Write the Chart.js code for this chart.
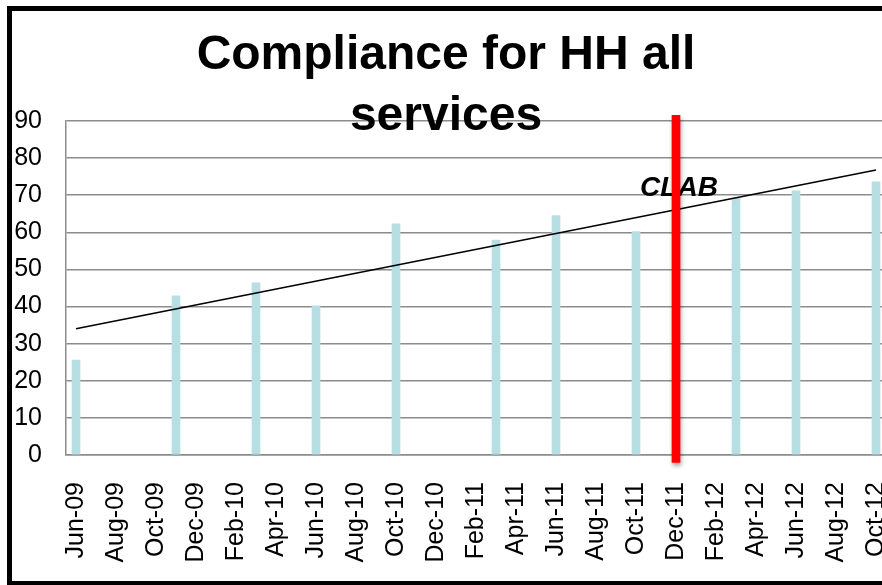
<!DOCTYPE html>
<html>
<head>
<meta charset="utf-8">
<script src="https://cdn.jsdelivr.net/npm/chart.js@4.4.1/dist/chart.umd.min.js"></script>
<style>
  html, body { margin: 0; padding: 0; background: #fff; }
  #clip { position: relative; width: 882px; height: 585px; overflow: hidden; }
  #wrap { position: absolute; left: 0; top: 0; width: 892px; height: 585px; }
  #frame { position: absolute; left: 7px; top: 6px; width: 890px; height: 580px;
           border: 5px solid #000; box-sizing: border-box; pointer-events: none; }
</style>
</head>
<body>
<div id="clip">
  <div id="wrap"><canvas id="myChart"></canvas></div>
  <div id="frame"></div>
</div>
<script>
var months = ["Jun-09","Jul-09","Aug-09","Sep-09","Oct-09","Nov-09","Dec-09","Jan-10","Feb-10","Mar-10",
  "Apr-10","May-10","Jun-10","Jul-10","Aug-10","Sep-10","Oct-10","Nov-10","Dec-10","Jan-11",
  "Feb-11","Mar-11","Apr-11","May-11","Jun-11","Jul-11","Aug-11","Sep-11","Oct-11","Nov-11",
  "Dec-11","Jan-12","Feb-12","Mar-12","Apr-12","May-12","Jun-12","Jul-12","Aug-12","Sep-12","Oct-12"];

// audits that were actually done
var auditMonths = ["Jun-09","Nov-09","Mar-10","Jun-10","Oct-10","Mar-11","Jun-11","Oct-11","Mar-12","Jun-12","Oct-12"];
var compliance = [25.6, 42.9, 46.4, 40.2, 62.3, 57.9, 64.5, 60.2, 69.2, 71.2, 73.6];

// linear trend line, read at its two ends
var trendMonths = ["Jun-09","Oct-12"];
var trendValues = [34.0, 76.8];

// CLAB marker
var clabMonth = "Dec-11";
var clabRange = [-2, 91.5];

var yTicks = [0, 10, 20, 30, 40, 50, 60, 70, 80, 90];

function spread(keys, vals) {
  return months.map(function (m) {
    var i = keys.indexOf(m);
    return i < 0 ? null : vals[i];
  });
}

var font = '"Liberation Sans", Arial, sans-serif';

var textPlugin = {
  id: "texts",
  beforeDatasetsDraw: function (chart) {
    var ctx = chart.ctx;
    var x = chart.scales.x.getPixelForValue(months.indexOf(clabMonth));
    ctx.save();
    ctx.font = "italic bold 28px " + font;
    ctx.fillStyle = "#000";
    ctx.textAlign = "center";
    ctx.textBaseline = "alphabetic";
    ctx.fillText("CLAB", x + 3, 196);
    ctx.restore();
  },
  // soft shadow under the red marker
  beforeDatasetDraw: function (chart, args) {
    if (args.index !== 0) return;
    var ctx = chart.ctx;
    ctx.save();
    ctx.shadowColor = "rgba(0,0,0,0.35)";
    ctx.shadowBlur = 4;
    ctx.shadowOffsetX = 1;
    ctx.shadowOffsetY = 3;
  },
  afterDatasetDraw: function (chart, args) {
    if (args.index !== 0) return;
    chart.ctx.restore();
  },
  afterDraw: function (chart) {
    var ctx = chart.ctx;
    ctx.save();
    ctx.font = "bold 48px " + font;
    ctx.fillStyle = "#000";
    ctx.textAlign = "center";
    ctx.textBaseline = "alphabetic";
    ctx.fillText("Compliance for HH all", 446, 69);
    ctx.fillText("services", 446, 130);
    ctx.restore();
  }
};

var ctx = document.getElementById("myChart").getContext("2d");
var myChart = new Chart(ctx, {
  type: "bar",
  data: {
    labels: months,
    datasets: [
      {
        type: "bar",
        label: "CLAB",
        data: spread([clabMonth], [clabRange]),
        backgroundColor: "#FF0000",
        barThickness: 8,
        grouped: false,
        clip: false,
        order: 0
      },
      {
        type: "line",
        label: "Trend",
        data: spread(trendMonths, trendValues),
        borderColor: "#000",
        borderWidth: 1.5,
        pointRadius: 0,
        spanGaps: true,
        order: 1
      },
      {
        type: "bar",
        label: "Compliance",
        data: spread(auditMonths, compliance),
        backgroundColor: "#B7DEE2",
        barThickness: 8,
        grouped: false,
        order: 2
      }
    ]
  },
  options: {
    responsive: true,
    maintainAspectRatio: false,
    animation: false,
    layout: { padding: { top: 121, left: 0, right: 6, bottom: 0 } },
    plugins: {
      legend: { display: false },
      title: { display: false },
      tooltip: { enabled: false }
    },
    scales: {
      x: {
        grid: { display: false, drawTicks: false },
        border: { display: true, color: "#8c8c8c", width: 1.5 },
        ticks: {
          autoSkip: false,
          minRotation: 90,
          maxRotation: 90,
          padding: 27,
          color: "#000",
          font: { family: font, size: 25 },
          callback: function (v, i) { return i % 2 === 0 ? months[i] : ""; }
        },
        afterFit: function (scale) {
          scale.height = 130;
          scale.paddingLeft = 0;
          scale.paddingRight = 0;
        }
      },
      y: {
        min: 0,
        max: 90,
        afterBuildTicks: function (scale) {
          scale.ticks = yTicks.map(function (v) { return { value: v }; });
        },
        grid: { color: "#8c8c8c", lineWidth: 1.5, drawTicks: false },
        border: { display: true, color: "#8c8c8c", width: 1.5 },
        ticks: {
          padding: 24,
          color: "#000",
          font: { family: font, size: 25 }
        },
        afterFit: function (scale) { scale.width = 66; }
      }
    }
  },
  plugins: [textPlugin]
});
</script>
</body>
</html>
